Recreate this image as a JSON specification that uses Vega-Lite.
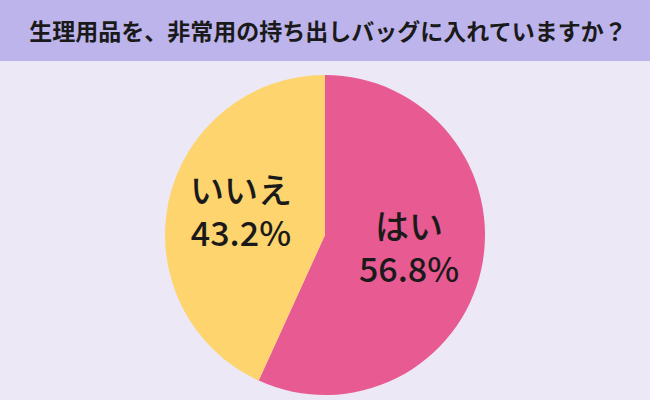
{
  "$schema": "https://vega.github.io/schema/vega-lite/v6.json",
  "padding": 0,
  "spacing": 0,
  "background": "#ece8f6",
  "config": {"view": {"stroke": null}, "font": "Noto Sans CJK JP"},
  "vconcat": [
    {
      "width": 650,
      "height": 61,
      "view": {"fill": "#bdb4ec", "stroke": null},
      "data": {"values": [{"title": "生理用品を、非常用の持ち出しバッグに入れていますか？"}]},
      "mark": {"type": "text", "font": "Noto Sans CJK JP", "fontWeight": "bold", "fontSize": 23, "color": "#1a1a1a", "align": "center", "baseline": "middle", "dy": 2, "dx": 3},
      "encoding": {"text": {"field": "title"}}
    },
    {
      "width": 650,
      "height": 348,
      "data": {"values": [
        {"answer": "はい", "pct": 56.8, "pctLabel": "56.8%"},
        {"answer": "いいえ", "pct": 43.2, "pctLabel": "43.2%"}
      ]},
      "encoding": {
        "theta": {"field": "pct", "type": "quantitative", "stack": true},
        "order": {"field": "pct", "sort": "descending"}
      },
      "layer": [
        {
          "mark": {"type": "arc", "outerRadius": 160},
          "encoding": {
            "color": {"field": "answer", "type": "nominal", "scale": {"domain": ["はい", "いいえ"], "range": ["#e85a92", "#fdd46d"]}, "legend": null}
          }
        },
        {
          "mark": {"type": "text", "radius": 86, "font": "Noto Sans CJK JP", "fontWeight": 500, "fontSize": 34, "color": "#1a1a1a", "align": "center", "baseline": "middle", "dy": -24},
          "encoding": {"text": {"field": "answer"}}
        },
        {
          "mark": {"type": "text", "radius": 86, "font": "Noto Sans CJK JP", "fontWeight": 500, "fontSize": 34, "color": "#1a1a1a", "align": "center", "baseline": "middle", "dy": 19},
          "encoding": {"text": {"field": "pctLabel"}}
        }
      ]
    }
  ]
}
